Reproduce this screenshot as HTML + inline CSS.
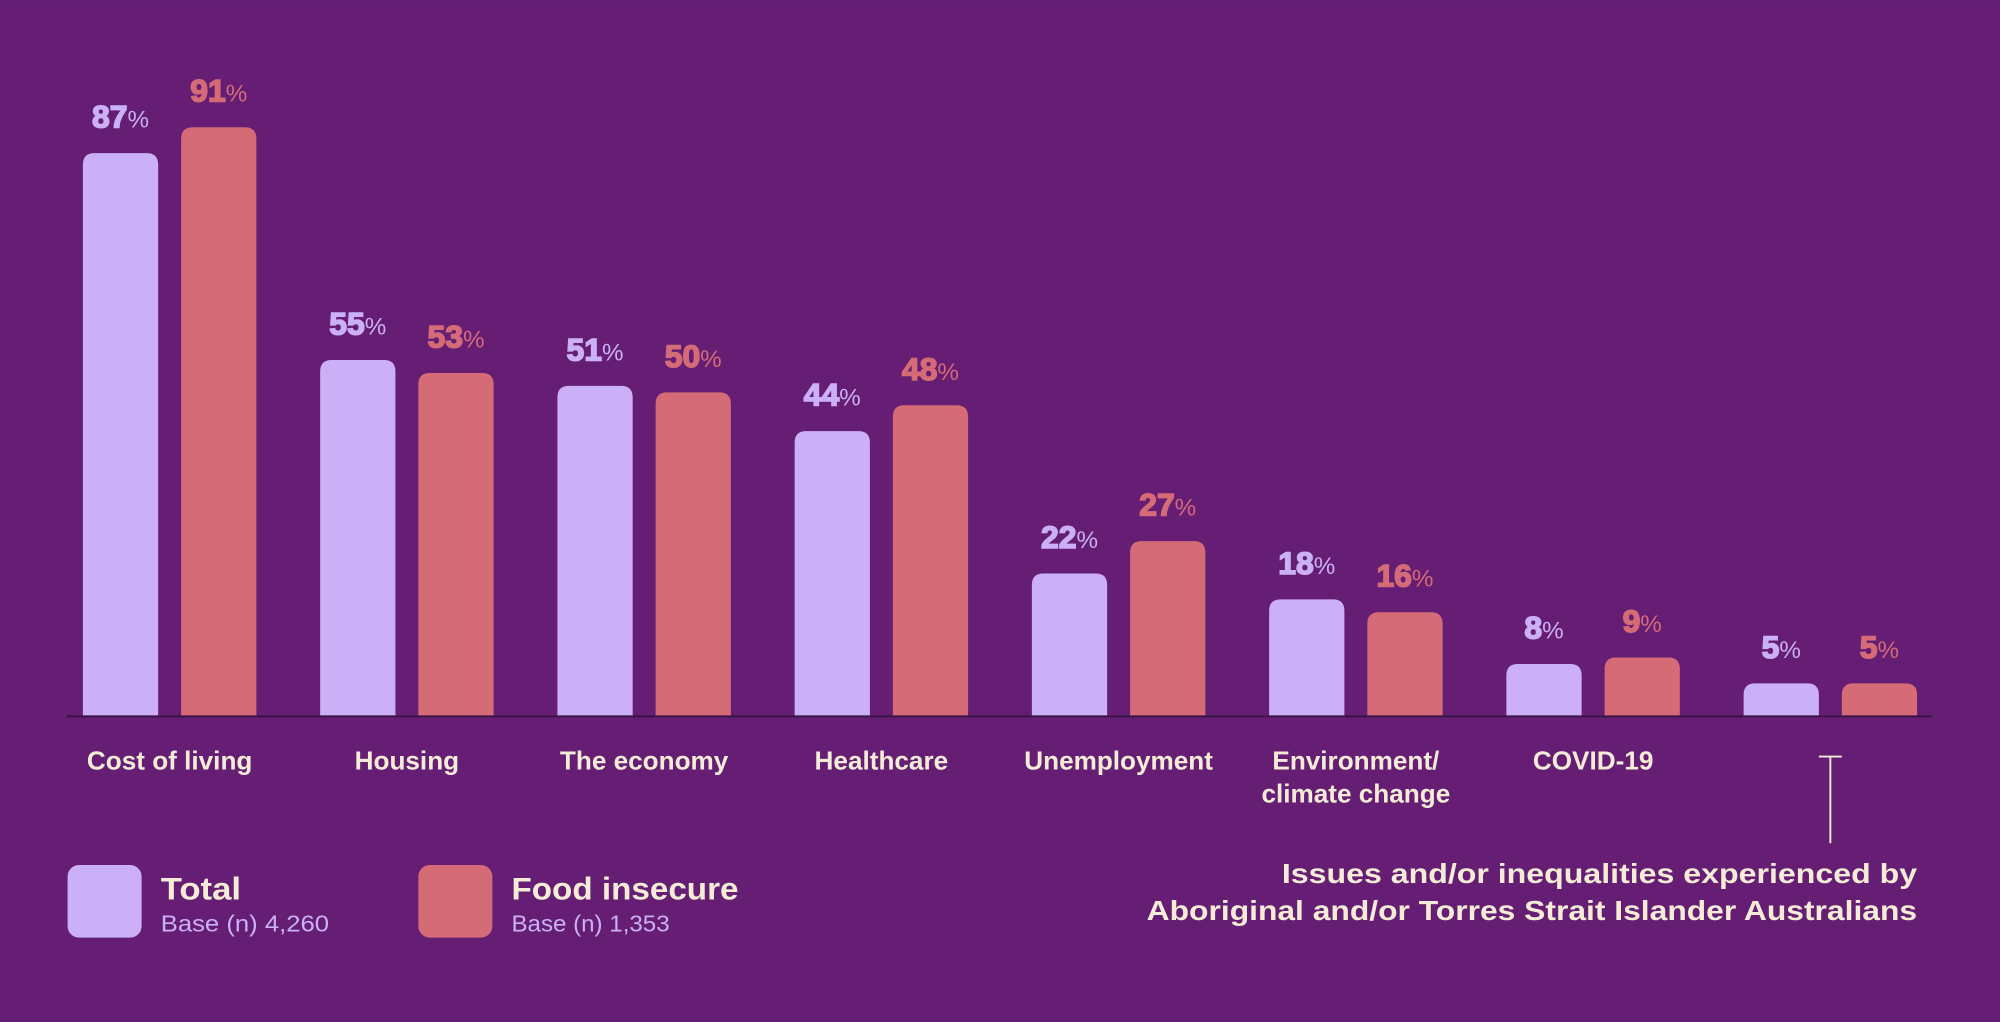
<!DOCTYPE html>
<html><head><meta charset="utf-8"><style>
html,body{margin:0;padding:0;background:#651e73;}
svg{display:block;font-family:"Liberation Sans",sans-serif;}
</style></head><body>
<svg id="chart" width="2000" height="1022" viewBox="0 0 1568 801" xmlns="http://www.w3.org/2000/svg">
<rect x="0" y="0" width="1568" height="801" fill="#651e73"/>
<g id="bars"></g>
<line x1="52" y1="561.5" x2="1515" y2="561.5" stroke="#3a1446" stroke-width="1.5"/>
<g>
<line x1="1426" y1="593" x2="1444" y2="593" stroke="#f5ecd7" stroke-width="1.5"/>
<line x1="1435" y1="593" x2="1435" y2="661" stroke="#f5ecd7" stroke-width="1.5"/>
<text x="1005" y="692" textLength="498" lengthAdjust="spacingAndGlyphs" font-size="22" font-weight="bold" fill="#f5ecd7">Issues and/or inequalities experienced by</text>
<text x="899" y="721" textLength="604" lengthAdjust="spacingAndGlyphs" font-size="22" font-weight="bold" fill="#f5ecd7">Aboriginal and/or Torres Strait Islander Australians</text>
</g>
<g>
<rect x="53" y="678" width="58" height="57" rx="9" fill="#cbb0f7"/>
<text x="126" y="705" textLength="63" lengthAdjust="spacingAndGlyphs" font-size="25" font-weight="bold" fill="#f5ecd7">Total</text>
<text x="126" y="730" textLength="132" lengthAdjust="spacingAndGlyphs" font-size="18" fill="#cbb0f7">Base (n) 4,260</text>
<rect x="328" y="678" width="58" height="57" rx="9" fill="#d56b77"/>
<text x="401" y="705" textLength="178" lengthAdjust="spacingAndGlyphs" font-size="25" font-weight="bold" fill="#f5ecd7">Food insecure</text>
<text x="401" y="730" textLength="124" lengthAdjust="spacingAndGlyphs" font-size="18" fill="#cbb0f7">Base (n) 1,353</text>
</g>
</svg>
<script>
const categories = ["Cost of living","Housing","The economy","Healthcare","Unemployment","Environment/|climate change","COVID-19",""];
const totalValues = [87,55,51,44,22,18,8,5];
const foodInsecureValues = [91,53,50,48,27,16,9,5];

const NS = "http://www.w3.org/2000/svg";
const g = document.getElementById("bars");
const baseY = 561;
const pxPerPct = 5.07;
const groupStart = 65, groupStep = 186, barW = 59, pairGap = 77;
function yScale(v){ return baseY - v * pxPerPct; }
function xBar(i, s){ return groupStart + i * groupStep + s * pairGap; }
function mk(tag, attrs){ const e = document.createElementNS(NS, tag); for (const k in attrs) e.setAttribute(k, attrs[k]); return e; }
function topRounded(x, y, w, h, r){
  r = Math.min(r, h);
  return `M${x},${y+h} L${x},${y+r} Q${x},${y} ${x+r},${y} L${x+w-r},${y} Q${x+w},${y} ${x+w},${y+r} L${x+w},${y+h} Z`;
}
const series = [
  {vals: totalValues, color: "#cbb0f7", key: "total"},
  {vals: foodInsecureValues, color: "#d56b77", key: "food-insecure"}
];
categories.forEach((cat, i) => {
  series.forEach((s, si) => {
    const v = s.vals[i];
    const x = xBar(i, si), y = yScale(v);
    const p = mk("path", {d: topRounded(x, y, barW, baseY - y, 9), fill: s.color});
    
    
    g.appendChild(p);
    const t = mk("text", {x: x + barW/2, y: y - 20, "text-anchor": "middle", fill: s.color, "font-weight": "bold", "font-size": "25", stroke: s.color, "stroke-width": "1.2"});
    
    
    t.textContent = v;
    const ts = mk("tspan", {"font-size": "19", "font-weight": "normal", "stroke-width": "0"});
    ts.textContent = "%";
    t.appendChild(ts);
    g.appendChild(t);
  });
  if (cat) {
    const cx = groupStart + i * groupStep + (pairGap + barW) / 2;
    const lines = cat.split("|");
    lines.forEach((ln, li) => {
      const t = mk("text", {x: cx, y: 603 + li * 26, "text-anchor": "middle", fill: "#f5ecd7", "font-weight": "bold", "font-size": "20.5"});
      
      
      t.textContent = ln;
      g.appendChild(t);
    });
  }
});
</script>
</body></html>
